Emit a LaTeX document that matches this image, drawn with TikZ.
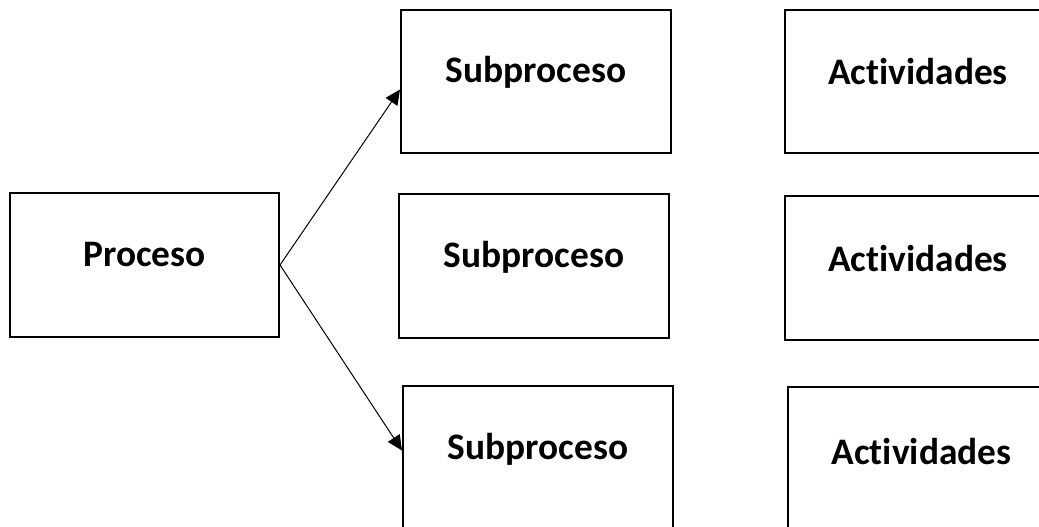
\documentclass[tikz,border=0pt]{standalone}
\usepackage{fontspec}
\setmainfont{Carlito}[Ligatures=NoCommon]
\usetikzlibrary{arrows.meta,positioning}

\begin{document}
\begin{tikzpicture}[x=1pt, y=-1pt, node distance=40pt,
  every node/.style={draw, line width=2pt, inner sep=0pt, minimum width=270pt, text height=73pt, text depth=70pt, font=\fontsize{37.4}{44}\selectfont\bfseries},
  link/.style={line width=1pt, -{Triangle[length=15pt, width=14pt]}}]
  \clip (0,0) rectangle (1039,527);

  \node at (144.5,265) [minimum width=269pt, text depth=71pt] (proceso) {Proceso};

  % subprocesos
  \node[right=118pt of proceso, yshift=-1pt, text depth=71pt] (sub2) {Subproceso};
  \node[above=39pt of sub2, xshift=2pt] (sub1) {Subproceso};
  \node[below=46pt of sub2, xshift=4pt] (sub3) {Subproceso};

  % actividades
  \node[right=112pt of sub1, minimum width=266pt, text height=74pt, text depth=68pt] (act1) {Actividades};
  \node[right=114pt of sub2, yshift=-2pt, minimum width=266pt, text height=75pt, text depth=69pt] (act2) {Actividades};
  \node[right=113pt of sub3, yshift=-1pt, minimum width=267pt, text height=77pt, text depth=66pt] (act3) {Actividades};

  \draw[link] (proceso.east) -- ([yshift=-8pt]sub1.west);
  \draw[link] (proceso.east) -- ([yshift=7pt]sub3.west);
\end{tikzpicture}
\end{document}
